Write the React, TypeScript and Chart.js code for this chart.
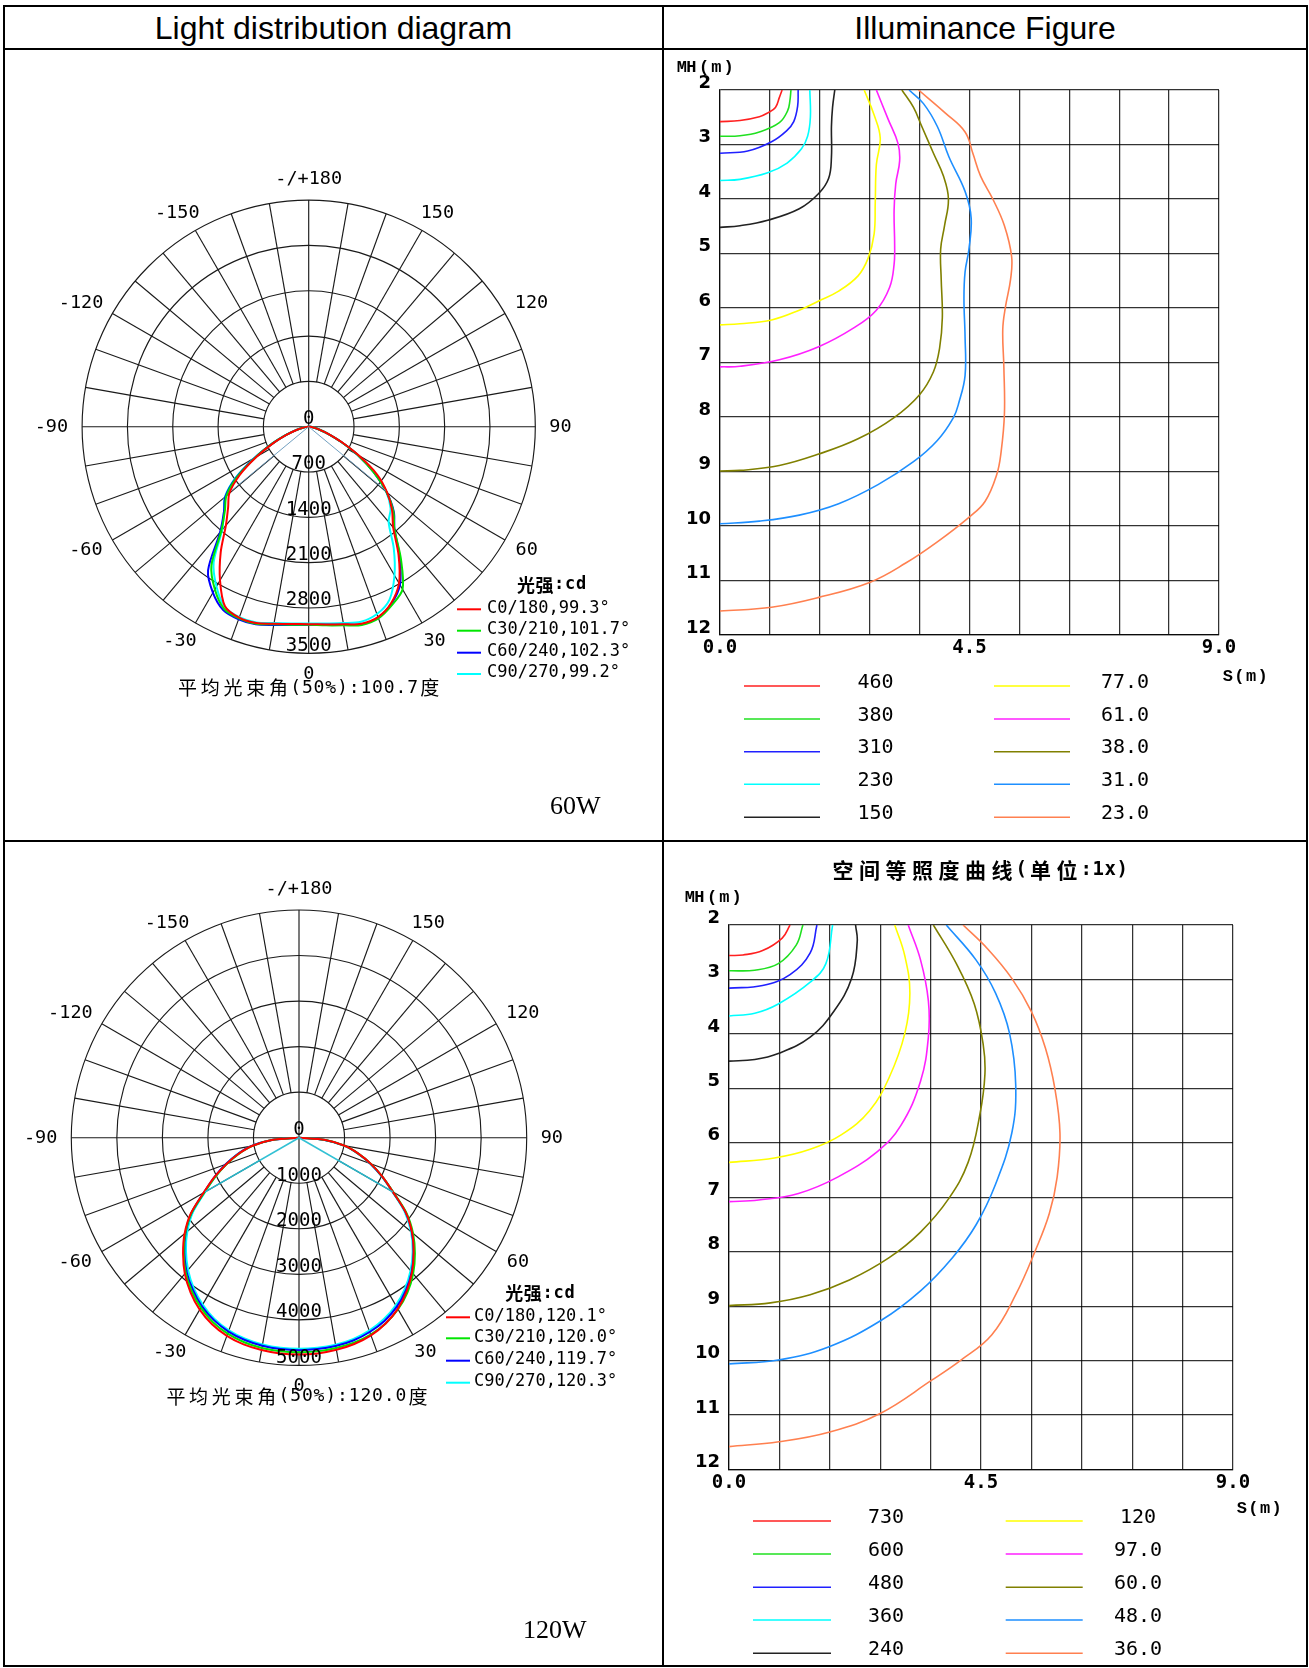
import React, { useEffect, useRef } from 'react';
import { Chart, registerables } from 'chart.js';

Chart.register(...registerables);

// ---------------- DATA ----------------
// gamma angles (deg from nadir) for the intensity tables
const GAMMA = [0, 5, 10, 15, 20, 25, 30, 35, 40, 45, 50, 55, 60, 65, 70, 75, 80, 85, 90];
const ANGLE_TICKS = [-150, -120, -90, -60, -30, 0, 30, 60, 90, 120, 150, 180];

// 60W light distribution (cd)
const P1_RINGS = [0, 700, 1400, 2100, 2800, 3500];
const P1_C0 = [3050, 3065, 3100, 3150, 3130, 3010, 2790, 2420, 2030, 1820, 1580, 1290, 900, 560, 320, 170, 80, 25, 0];
const P1_C180 = [3050, 3060, 3090, 3140, 3140, 3060, 2740, 2370, 1990, 1760, 1600, 1300, 930, 610, 360, 195, 85, 30, 0];
const P1_C30 = [3065, 3080, 3115, 3170, 3150, 3040, 2900, 2480, 2060, 1850, 1570, 1220, 880, 550, 310, 165, 75, 25, 0];
const P1_C210 = [3060, 3070, 3100, 3150, 3150, 3100, 2900, 2620, 2100, 1830, 1660, 1340, 950, 620, 370, 200, 90, 30, 0];
const P1_C60 = [3060, 3070, 3105, 3160, 3140, 3020, 2820, 2450, 2060, 1860, 1570, 1230, 880, 550, 310, 165, 75, 25, 0];
const P1_C240 = [3063, 3075, 3110, 3160, 3165, 3125, 2960, 2710, 2130, 1850, 1680, 1360, 960, 620, 370, 200, 90, 30, 0];
const P1_C90 = [3040, 3050, 3080, 3120, 3080, 2950, 2650, 2290, 1920, 1790, 1560, 1230, 880, 550, 310, 165, 75, 25, 0];
const P1_C270 = [3040, 3050, 3080, 3130, 3130, 3070, 2850, 2560, 2080, 1850, 1690, 1380, 980, 650, 390, 210, 95, 30, 0];
const P1_PLANES = ['C0/180', 'C30/210', 'C60/240', 'C90/270'];
const P1_PLANE_BEAMS = ['99.3', '101.7', '102.3', '99.2'];
const P1_AVG_BEAM = '100.7';
const P1_BEAM_CD = 1545;

// 120W light distribution (cd)
const P2_RINGS = [0, 1000, 2000, 3000, 4000, 5000];
const P2_C0 = [4760, 4755, 4730, 4690, 4620, 4500, 4340, 4120, 3860, 3560, 3240, 2860, 2380, 2020, 1680, 1350, 1020, 580, 0];
const P2_C180 = [4760, 4755, 4735, 4700, 4630, 4520, 4360, 4150, 3900, 3600, 3280, 2900, 2420, 2050, 1700, 1380, 1050, 600, 0];
const P2_C30 = [4710, 4710, 4690, 4660, 4600, 4500, 4350, 4150, 3900, 3600, 3270, 2880, 2390, 2020, 1680, 1350, 1020, 580, 0];
const P2_C210 = [4710, 4705, 4690, 4650, 4580, 4470, 4310, 4110, 3870, 3580, 3260, 2880, 2400, 2030, 1690, 1370, 1040, 600, 0];
const P2_C60 = [4665, 4660, 4645, 4610, 4540, 4440, 4290, 4090, 3850, 3560, 3240, 2860, 2380, 2010, 1670, 1340, 1010, 570, 0];
const P2_C240 = [4665, 4660, 4640, 4600, 4530, 4420, 4270, 4070, 3840, 3560, 3250, 2880, 2410, 2050, 1720, 1400, 1070, 620, 0];
const P2_C90 = [4636, 4630, 4615, 4580, 4510, 4400, 4250, 4050, 3810, 3530, 3210, 2830, 2360, 2000, 1660, 1330, 1000, 560, 0];
const P2_C270 = [4636, 4630, 4610, 4570, 4500, 4390, 4230, 4030, 3790, 3510, 3200, 2840, 2380, 2030, 1700, 1390, 1060, 610, 0];
const P2_PLANES = ['C0/180', 'C30/210', 'C60/240', 'C90/270'];
const P2_PLANE_BEAMS = ['120.1', '120.0', '119.7', '120.3'];
const P2_AVG_BEAM = '120.0';
const P2_BEAM_CD = 2380;

// Illuminance axes
const S_GRID = [0, 0.9, 1.8, 2.7, 3.6, 4.5, 5.4, 6.3, 7.2, 8.1, 9.0];
const S_LABELS = ['0.0', '', '', '', '', '4.5', '', '', '', '', '9.0'];
const MH_TICKS = [2, 3, 4, 5, 6, 7, 8, 9, 10, 11, 12];

// 60W isolux curves [S(m), MH(m)]
const I1_LEVELS = ['460', '380', '310', '230', '150', '77.0', '61.0', '38.0', '31.0', '23.0'];
const I1_460 = [[1.12, 2], [1.07, 2.14], [1.0, 2.32], [0.86, 2.42], [0.71, 2.49], [0.36, 2.56], [0, 2.58]];
const I1_380 = [[1.28, 2], [1.26, 2.2], [1.22, 2.38], [1.07, 2.6], [0.71, 2.77], [0.36, 2.84], [0, 2.85]];
const I1_310 = [[1.41, 2], [1.4, 2.3], [1.33, 2.58], [1.2, 2.75], [0.93, 2.95], [0.5, 3.12], [0, 3.16]];
const I1_230 = [[1.62, 2], [1.63, 2.5], [1.58, 2.85], [1.47, 3.08], [1.21, 3.34], [0.86, 3.52], [0.36, 3.64], [0, 3.66]];
const I1_150 = [[2.07, 2], [2.03, 2.32], [2.01, 2.67], [2.01, 3.23], [1.96, 3.62], [1.78, 3.9], [1.43, 4.18], [0.86, 4.39], [0.36, 4.49], [0, 4.52]];
const I1_77 = [[2.6, 2], [2.78, 2.46], [2.89, 2.88], [2.82, 3.37], [2.8, 4.07], [2.78, 4.64], [2.67, 5.09], [2.49, 5.41], [2.14, 5.69], [1.78, 5.87], [1.43, 6.04], [0.93, 6.22], [0.36, 6.29], [0, 6.31]];
const I1_61 = [[2.82, 2], [3.03, 2.53], [3.21, 2.98], [3.24, 3.3], [3.17, 3.72], [3.14, 4.21], [3.15, 4.85], [3.14, 5.2], [3.06, 5.62], [2.82, 6.04], [2.42, 6.36], [1.78, 6.71], [1.07, 6.95], [0.36, 7.07], [0, 7.08]];
const I1_38 = [[3.28, 2], [3.49, 2.32], [3.64, 2.67], [3.85, 3.16], [4.03, 3.58], [4.12, 4.0], [4.05, 4.49], [3.98, 4.92], [3.99, 5.48], [4.01, 6.18], [3.96, 6.74], [3.85, 7.17], [3.6, 7.59], [3.14, 8.01], [2.49, 8.4], [1.78, 8.68], [1.07, 8.89], [0.36, 8.98], [0, 8.99]];
const I1_31 = [[3.41, 2], [3.67, 2.25], [3.92, 2.67], [4.13, 3.23], [4.42, 3.86], [4.53, 4.35], [4.49, 4.92], [4.42, 5.34], [4.4, 5.83], [4.42, 6.53], [4.42, 7.24], [4.31, 7.73], [4.21, 8.01], [3.92, 8.43], [3.49, 8.82], [2.85, 9.24], [2.14, 9.59], [1.43, 9.8], [0.71, 9.91], [0, 9.96]];
const I1_23 = [[3.58, 2], [4.06, 2.42], [4.42, 2.77], [4.56, 3.16], [4.7, 3.58], [4.92, 4.0], [5.13, 4.49], [5.26, 5.06], [5.24, 5.48], [5.15, 5.97], [5.1, 6.39], [5.12, 7.09], [5.13, 7.94], [5.07, 8.64], [4.99, 9.06], [4.78, 9.55], [4.49, 9.84], [3.92, 10.29], [3.35, 10.68], [2.71, 11.03], [1.78, 11.31], [0.93, 11.49], [0, 11.56]];

// 120W isolux curves [S(m), MH(m)]
const I2_LEVELS = ['730', '600', '480', '360', '240', '120', '97.0', '60.0', '48.0', '36.0'];
const I2_730 = [[1.09, 2], [0.95, 2.24], [0.6, 2.47], [0.25, 2.55], [0, 2.56]];
const I2_600 = [[1.32, 2], [1.2, 2.37], [0.88, 2.71], [0.46, 2.83], [0, 2.84]];
const I2_480 = [[1.57, 2], [1.45, 2.51], [1.09, 2.91], [0.6, 3.11], [0, 3.16]];
const I2_360 = [[1.85, 2], [1.73, 2.71], [1.45, 3.05], [0.88, 3.45], [0.46, 3.62], [0, 3.67]];
const I2_240 = [[2.26, 2], [2.29, 2.3], [2.19, 2.98], [1.87, 3.59], [1.45, 4.06], [0.88, 4.36], [0.46, 4.47], [0, 4.5]];
const I2_120 = [[2.96, 2], [3.14, 2.57], [3.23, 3.25], [3.14, 3.99], [2.86, 4.8], [2.51, 5.41], [2.01, 5.85], [1.45, 6.12], [0.81, 6.28], [0, 6.36]];
const I2_97 = [[3.2, 2], [3.42, 2.64], [3.56, 3.39], [3.56, 4.06], [3.42, 4.87], [3.07, 5.68], [2.65, 6.16], [1.94, 6.63], [1.24, 6.93], [0.53, 7.05], [0, 7.08]];
const I2_60 = [[3.65, 2], [4.06, 2.71], [4.38, 3.45], [4.54, 4.2], [4.57, 4.74], [4.48, 5.48], [4.27, 6.36], [3.92, 7.03], [3.42, 7.64], [2.86, 8.11], [2.15, 8.52], [1.45, 8.79], [0.74, 8.94], [0, 8.99]];
const I2_48 = [[3.88, 2], [4.41, 2.64], [4.76, 3.25], [5.01, 3.99], [5.12, 4.94], [5.05, 5.82], [4.76, 6.76], [4.41, 7.51], [3.99, 8.11], [3.42, 8.72], [2.72, 9.26], [1.8, 9.74], [0.88, 9.99], [0, 10.06]];
const I2_36 = [[4.18, 2], [4.62, 2.44], [5.05, 2.98], [5.4, 3.59], [5.65, 4.26], [5.82, 5.01], [5.91, 5.82], [5.86, 6.63], [5.72, 7.3], [5.47, 7.98], [5.12, 8.79], [4.69, 9.53], [4.13, 10.0], [3.62, 10.36], [2.7, 10.97], [1.8, 11.31], [0.89, 11.49], [0, 11.58]];

// ---------------- STYLE ----------------
const POLAR_COLORS = ['#ff0000', '#00e600', '#0000ff', '#00ffff'];
const ILLUM_COLORS = ['#ff2020', '#20e020', '#2020ff', '#00ffff', '#222222', '#ffff00', '#ff20ff', '#808000', '#1e8fff', '#ff8050'];
const GRID = '#1a1a1a';
const MONO = "'DejaVu Sans Mono'";
const CJK = "'Noto Sans CJK SC'";

function isCJK(ch: string) {
  return /[\u3000-\u9fff\uff00-\uffef]/.test(ch);
}

function drawRuns(ctx: CanvasRenderingContext2D, text: string, x: number, y: number, o: any) {
  const chars = Array.from(text);
  const widths = chars.map((c) => (isCJK(c) ? o.cjkPitch : o.latPitch));
  const total = widths.reduce((a, b) => a + b, 0);
  let cx = o.align === 'center' ? x - total / 2 : o.align === 'right' ? x - total : x;
  ctx.textAlign = 'center';
  ctx.textBaseline = 'middle';
  chars.forEach((c, i) => {
    ctx.font = isCJK(c) ? o.cjkFont : o.latFont;
    ctx.fillText(c, cx + widths[i] / 2, y);
    cx += widths[i];
  });
}

const rad = (d: number) => (d * Math.PI) / 180;
const toXY = (g: number, I: number, side: number) => ({ x: side * I * Math.sin(rad(g)), y: -I * Math.cos(rad(g)) });

function planeCurve(left: number[], right: number[]) {
  const pts: any[] = [];
  for (let i = GAMMA.length - 1; i >= 0; i--) pts.push(toXY(GAMMA[i], left[i], -1));
  for (let i = 1; i < GAMMA.length; i++) pts.push(toXY(GAMMA[i], right[i], 1));
  return pts;
}

// ---------------- POLAR CHART ----------------
function makePolar(c: any) {
  const max = c.rings[c.rings.length - 1];
  const half = Number(c.avg) / 2;
  const plugin = {
    id: 'polarDeco',
    beforeDatasetsDraw(chart: any) {
      const { ctx } = chart;
      const xs = chart.scales.x;
      const ys = chart.scales.y;
      const cx = xs.getPixelForValue(0);
      const cy = ys.getPixelForValue(0);
      const rp = (v: number) => xs.getPixelForValue(v) - cx;
      const R = rp(max);
      ctx.save();
      ctx.strokeStyle = GRID;
      ctx.lineWidth = 1.15;
      for (const r of c.rings) {
        if (r > 0) {
          ctx.beginPath();
          ctx.arc(cx, cy, rp(r), 0, Math.PI * 2);
          ctx.stroke();
        }
      }
      const r0 = rp(c.rings[1]);
      for (let a = 0; a < 360; a += 10) {
        const inner = a % 90 === 0 ? 0 : r0;
        const s = Math.sin(rad(a));
        const k = Math.cos(rad(a));
        ctx.beginPath();
        ctx.moveTo(cx + inner * s, cy + inner * k);
        ctx.lineTo(cx + R * s, cy + R * k);
        ctx.stroke();
      }
      ctx.restore();
    },
    afterDatasetsDraw(chart: any) {
      const { ctx } = chart;
      const xs = chart.scales.x;
      const ys = chart.scales.y;
      const cx = xs.getPixelForValue(0);
      const cy = ys.getPixelForValue(0);
      const rp = (v: number) => xs.getPixelForValue(v) - cx;
      const R = rp(max);
      const ox = c.origin[0];
      const oy = c.origin[1];
      ctx.save();
      ctx.fillStyle = '#000';
      ctx.textAlign = 'center';
      ctx.textBaseline = 'middle';
      ctx.font = `19px ${MONO}`;
      for (const r of c.rings) ctx.fillText(String(r), cx, cy + rp(r) - 7.5);
      ctx.font = `18.5px ${MONO}`;
      for (const a of ANGLE_TICKS) {
        const t = a === 180 ? '-/+180' : String(a);
        const w = ctx.measureText(t).width;
        const s = Math.sin(rad(a));
        const k = Math.cos(rad(a));
        const d = R + 14;
        ctx.fillText(t, cx + s * d + (s * w) / 2, cy + k * d + k * 6.5);
      }
      // legend
      drawRuns(ctx, '光强:cd', c.legHeadX - ox, c.legHeadY - oy, {
        latFont: `bold 17px ${MONO}`, cjkFont: `bold 18px ${CJK}`, latPitch: 11, cjkPitch: 18.5, align: 'left',
      });
      c.planes.forEach((p: string, i: number) => {
        const y = c.legRows[i] - oy;
        ctx.strokeStyle = c.colors[i];
        ctx.lineWidth = 2;
        ctx.beginPath();
        ctx.moveTo(c.legLine[0] - ox, y);
        ctx.lineTo(c.legLine[1] - ox, y);
        ctx.stroke();
        ctx.font = `17px ${MONO}`;
        ctx.textAlign = 'left';
        ctx.textBaseline = 'middle';
        ctx.fillText(`${p},${c.beams[i]}°`, c.legTextX - ox, y - 1);
      });
      drawRuns(ctx, `平均光束角(50%):${c.avg}度`, c.beamText[0] - ox, c.beamText[1] - oy, {
        latFont: `18px ${MONO}`, cjkFont: `19px ${CJK}`, latPitch: 11.7, cjkPitch: 22.7, align: 'center',
      });
      ctx.font = "26px 'Liberation Serif'";
      ctx.textAlign = 'left';
      ctx.textBaseline = 'alphabetic';
      ctx.fillText(c.watt, c.wattPos[0] - ox, c.wattPos[1] - oy);
      ctx.restore();
    },
  };
  const [ox, oy] = c.origin;
  const [W, H] = c.size;
  const datasets: any[] = [
    {
      data: [toXY(half, c.beamCd, -1), { x: 0, y: 0 }, toXY(half, c.beamCd, 1)],
      borderColor: c.beamColor, borderWidth: c.beamWidth, tension: 0,
    },
    ...c.curves.map((pair: number[][], i: number) => ({
      data: planeCurve(pair[0], pair[1]),
      borderColor: c.colors[i], borderWidth: 2, tension: 0.3,
    })),
  ].map((d) => ({ ...d, showLine: true, pointRadius: 0, fill: false }));
  return {
    type: 'scatter',
    data: { datasets },
    options: {
      animation: false,
      responsive: false,
      events: [],
      layout: {
        padding: {
          left: c.center[0] - c.R - ox,
          right: ox + W - (c.center[0] + c.R),
          top: c.center[1] - c.R - oy,
          bottom: oy + H - (c.center[1] + c.R),
        },
      },
      scales: {
        x: { display: false, min: -max, max },
        y: { display: false, min: -max, max },
      },
      plugins: { legend: { display: false }, tooltip: { enabled: false } },
    },
    plugins: [plugin],
  };
}

// ---------------- ILLUMINANCE CHART ----------------
function makeIllum(c: any) {
  const [ox, oy] = c.origin;
  const [W, H] = c.size;
  const XH = 30;
  const plugin = {
    id: 'illumDeco',
    afterDraw(chart: any) {
      const { ctx } = chart;
      ctx.save();
      ctx.fillStyle = '#000';
      const mono = `bold 17px 'Liberation Mono'`;
      drawRuns(ctx, 'MH', c.mh[0] - ox, c.mh[2] - oy, { latFont: mono, cjkFont: mono, latPitch: 9.6, cjkPitch: 9.6, align: 'left' });
      drawRuns(ctx, '(m)', c.mh[1] - ox, c.mh[2] - oy, { latFont: mono, cjkFont: mono, latPitch: 12.2, cjkPitch: 12.2, align: 'left' });
      drawRuns(ctx, 'S(m)', c.sm[0] - ox, c.sm[1] - oy, { latFont: mono, cjkFont: mono, latPitch: 11.6, cjkPitch: 11.6, align: 'left' });
      if (c.title) {
        drawRuns(ctx, c.title, c.titlePos[0] - ox, c.titlePos[1] - oy, {
          latFont: `bold 19px ${MONO}`, cjkFont: `bold 21px ${CJK}`, latPitch: 12, cjkPitch: 26.5, align: 'center',
        });
      }
      c.levels.forEach((lv: string, i: number) => {
        const col = i < 5 ? 0 : 1;
        const y = c.rows[i % 5] - oy;
        ctx.strokeStyle = ILLUM_COLORS[i];
        ctx.lineWidth = 1.6;
        ctx.beginPath();
        ctx.moveTo(c.lineX[col][0] - ox, y);
        ctx.lineTo(c.lineX[col][1] - ox, y);
        ctx.stroke();
        ctx.font = `20px ${MONO}`;
        ctx.textAlign = 'center';
        ctx.textBaseline = 'middle';
        ctx.fillText(lv, c.textX[col] - ox, y - 3.5);
      });
      ctx.restore();
    },
  };
  const datasets = c.curves.map((pts: number[][], i: number) => ({
    data: pts.map((p) => ({ x: p[0], y: p[1] })),
    borderColor: ILLUM_COLORS[i],
    borderWidth: 1.6,
    tension: 0.4,
    showLine: true,
    pointRadius: 0,
    fill: false,
  }));
  const gridCol = 'rgba(0,0,0,0.8)';
  return {
    type: 'scatter',
    data: { datasets },
    options: {
      animation: false,
      responsive: false,
      events: [],
      layout: {
        padding: {
          left: 0,
          right: ox + W - c.area[1],
          top: c.area[2] - oy,
          bottom: oy + H - c.area[3] - XH,
        },
      },
      scales: {
        x: {
          type: 'linear', min: 0, max: 9, position: 'bottom',
          afterBuildTicks: (s: any) => { s.ticks = S_GRID.map((v) => ({ value: v })); },
          afterFit: (s: any) => { s.height = XH; },
          ticks: {
            autoSkip: false, maxRotation: 0, padding: 2, color: '#000',
            font: { family: 'DejaVu Sans Mono', size: 19, weight: 'bold' },
            callback: (_v: any, i: number) => S_LABELS[i],
          },
          grid: { color: gridCol, lineWidth: 1.25, drawTicks: false },
          border: { color: gridCol, width: 1.25 },
        },
        y: {
          type: 'linear', min: 2, max: 12, reverse: true,
          afterBuildTicks: (s: any) => { s.ticks = MH_TICKS.map((v) => ({ value: v })); },
          afterFit: (s: any) => { s.width = c.area[0] - ox; },
          ticks: {
            autoSkip: false, padding: 9, labelOffset: -7, color: '#000',
            font: { family: 'DejaVu Sans', size: 18, weight: 'bold' },
            callback: (v: any) => String(v),
          },
          grid: { color: gridCol, lineWidth: 1.25, drawTicks: false },
          border: { color: gridCol, width: 1.25 },
        },
      },
      plugins: { legend: { display: false }, tooltip: { enabled: false } },
    },
    plugins: [plugin],
  };
}

// ---------------- CONFIGS ----------------
const POLAR1 = {
  origin: [5, 50], size: [657, 790], center: [308.7, 426.7], R: 226.6,
  rings: P1_RINGS,
  curves: [[P1_C180, P1_C0], [P1_C210, P1_C30], [P1_C240, P1_C60], [P1_C270, P1_C90]],
  colors: POLAR_COLORS, planes: P1_PLANES, beams: P1_PLANE_BEAMS, avg: P1_AVG_BEAM, beamCd: P1_BEAM_CD,
  beamColor: 'rgba(100,150,185,0.9)', beamWidth: 1,
  legHeadX: 516.7, legHeadY: 585, legLine: [457, 481], legTextX: 487, legRows: [609.3, 630.7, 652.7, 674],
  beamText: [308.7, 688], watt: '60W', wattPos: [550, 814],
};
const POLAR2 = {
  origin: [5, 842], size: [657, 823], center: [299, 1137.7], R: 227.7,
  rings: P2_RINGS,
  curves: [[P2_C180, P2_C0], [P2_C210, P2_C30], [P2_C240, P2_C60], [P2_C270, P2_C90]],
  colors: POLAR_COLORS, planes: P2_PLANES, beams: P2_PLANE_BEAMS, avg: P2_AVG_BEAM, beamCd: P2_BEAM_CD,
  beamColor: 'rgba(40,190,210,0.95)', beamWidth: 1.6,
  legHeadX: 505, legHeadY: 1293.6, legLine: [446, 470], legTextX: 474, legRows: [1317.3, 1338.3, 1360.7, 1382.7],
  beamText: [297, 1396.7], watt: '120W', wattPos: [523, 1637.5],
};
const ILLUM1 = {
  origin: [664, 50], size: [642, 790], area: [720, 1219, 90, 635],
  curves: [I1_460, I1_380, I1_310, I1_230, I1_150, I1_77, I1_61, I1_38, I1_31, I1_23],
  levels: I1_LEVELS,
  mh: [677, 698, 68], sm: [1222, 677],
  lineX: [[744, 820], [994, 1070]], textX: [875.5, 1125], rows: [686, 719, 751.7, 784.3, 817.3],
};
const ILLUM2 = {
  origin: [664, 842], size: [642, 823], area: [729, 1233, 925, 1469.5],
  curves: [I2_730, I2_600, I2_480, I2_360, I2_240, I2_120, I2_97, I2_60, I2_48, I2_36],
  levels: I2_LEVELS,
  mh: [685, 706, 897.4], sm: [1236, 1508.5],
  title: '空间等照度曲线(单位:1x)', titlePos: [979, 869.6],
  lineX: [[753, 831], [1005.7, 1082.7]], textX: [886, 1138], rows: [1521, 1554, 1587.3, 1620, 1653.3],
};

function ChartBox({ cfg, make }: { cfg: any; make: (c: any) => any }) {
  const ref = useRef<HTMLCanvasElement>(null);
  useEffect(() => {
    const chart = new Chart(ref.current as HTMLCanvasElement, make(cfg));
    return () => chart.destroy();
  }, []);
  const [ox, oy] = cfg.origin;
  const [w, h] = cfg.size;
  return (
    <canvas
      ref={ref}
      width={w}
      height={h}
      style={{ position: 'absolute', left: ox, top: oy, width: w, height: h }}
    />
  );
}

const line = (left: number, top: number, width: number, height: number) => (
  <div style={{ position: 'absolute', left, top, width, height, background: '#000' }} />
);

export default function App() {
  const head = {
    position: 'absolute' as const,
    top: 10,
    height: 43,
    lineHeight: '43px',
    textAlign: 'center' as const,
    font: "32px 'Liberation Sans'",
    color: '#000',
  };
  return (
    <div style={{ position: 'absolute', left: 0, top: 0, width: 1309, height: 1668, background: '#fff', overflow: 'hidden' }}>
      <div style={{ ...head, left: 5, width: 657 }}>Light distribution diagram</div>
      <div style={{ ...head, left: 664, width: 642 }}>Illuminance Figure</div>
      <ChartBox cfg={POLAR1} make={makePolar} />
      <ChartBox cfg={ILLUM1} make={makeIllum} />
      <ChartBox cfg={POLAR2} make={makePolar} />
      <ChartBox cfg={ILLUM2} make={makeIllum} />
      {line(3, 5, 1305, 2)}
      {line(3, 1665, 1305, 2)}
      {line(3, 5, 2, 1662)}
      {line(1306, 5, 2, 1662)}
      {line(662, 5, 2, 1662)}
      {line(3, 48, 1305, 2)}
      {line(3, 840, 1305, 2)}
    </div>
  );
}
